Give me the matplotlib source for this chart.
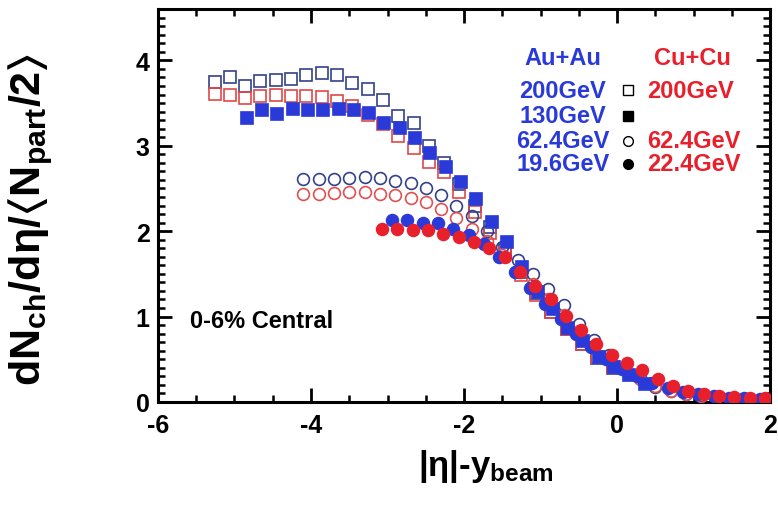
import numpy as np
import matplotlib
matplotlib.use("Agg")
import matplotlib.pyplot as plt
from matplotlib.ticker import MultipleLocator

plt.rcParams['font.family'] = ['Liberation Sans', 'DejaVu Sans']
plt.rcParams['font.weight'] = 'bold'
plt.rcParams['axes.unicode_minus'] = False
plt.rcParams['mathtext.fontset'] = 'custom'
plt.rcParams['mathtext.rm'] = 'Liberation Sans:bold'
plt.rcParams['mathtext.it'] = 'Liberation Sans:bold'
plt.rcParams['mathtext.bf'] = 'Liberation Sans:bold'
plt.rcParams['mathtext.sf'] = 'Liberation Sans:bold'
plt.rcParams['mathtext.fallback'] = 'stixsans'

# ---- data: x = |eta| - y_beam (0.2 steps in |eta|) ----
auau200_x = [-5.26, -5.06, -4.86, -4.66, -4.46, -4.26, -4.06, -3.86, -3.66, -3.46,
             -3.26, -3.06, -2.86, -2.66, -2.46, -2.26, -2.06, -1.86, -1.66, -1.46,
             -1.26, -1.06, -0.86, -0.66, -0.46, -0.26, -0.06]
auau200_y = [3.75, 3.80, 3.70, 3.76, 3.77, 3.78, 3.83, 3.85, 3.83, 3.74,
             3.67, 3.54, 3.35, 3.27, 3.00, 2.80, 2.55, 2.30, 2.05, 1.78,
             1.52, 1.28, 1.05, 0.85, 0.68, 0.52, 0.40]

cucu200_x = auau200_x
cucu200_y = [3.61, 3.59, 3.56, 3.58, 3.60, 3.58, 3.58, 3.57, 3.53, 3.47,
             3.36, 3.26, 3.12, 2.97, 2.81, 2.69, 2.46, 2.22, 1.98, 1.74,
             1.49, 1.25, 1.05, 0.85, 0.68, 0.53, 0.41]

auau130_x = [-4.84, -4.64, -4.44, -4.24, -4.04, -3.84, -3.64, -3.44, -3.24, -3.04,
             -2.84, -2.64, -2.44, -2.24, -2.04, -1.84, -1.64, -1.44, -1.24, -1.04,
             -0.84, -0.64, -0.44, -0.24, -0.04, 0.16, 0.36]
auau130_y = [3.33, 3.42, 3.37, 3.43, 3.42, 3.42, 3.43, 3.42, 3.38, 3.27,
             3.21, 3.09, 2.91, 2.75, 2.58, 2.38, 2.11, 1.87, 1.58, 1.29,
             1.09, 0.87, 0.71, 0.53, 0.41, 0.31, 0.21]

auau62_x = [-4.10, -3.90, -3.70, -3.50, -3.30, -3.10, -2.90, -2.70, -2.50, -2.30,
            -2.10, -1.90, -1.70, -1.50, -1.30, -1.10, -0.90, -0.70, -0.50, -0.30,
            -0.10, 0.10, 0.30, 0.50, 0.70, 0.90, 1.10]
auau62_y = [2.61, 2.61, 2.61, 2.62, 2.63, 2.62, 2.59, 2.56, 2.50, 2.42,
            2.30, 2.18, 2.00, 1.82, 1.66, 1.50, 1.32, 1.13, 0.91, 0.72,
            0.55, 0.41, 0.29, 0.18, 0.13, 0.09, 0.07]

cucu62_x = auau62_x
cucu62_y = [2.44, 2.44, 2.45, 2.46, 2.46, 2.44, 2.42, 2.39, 2.34, 2.26,
            2.15, 2.03, 1.88, 1.72, 1.55, 1.38, 1.20, 1.02, 0.83, 0.66,
            0.50, 0.37, 0.27, 0.19, 0.13, 0.09, 0.07]

auau19_x = [-2.94, -2.74, -2.54, -2.34, -2.14, -1.94, -1.74, -1.54, -1.34, -1.14,
            -0.94, -0.74, -0.54, -0.34, -0.14, 0.06, 0.26, 0.46, 0.66, 0.86,
            1.06, 1.26, 1.46, 1.66, 1.86]
auau19_y = [2.13, 2.13, 2.09, 2.10, 2.03, 1.96, 1.85, 1.70, 1.52, 1.33,
            1.15, 0.97, 0.80, 0.64, 0.50, 0.39, 0.30, 0.22, 0.16, 0.12,
            0.09, 0.07, 0.05, 0.04, 0.035]

cucu22_x = [-3.07, -2.87, -2.67, -2.47, -2.27, -2.07, -1.87, -1.67, -1.47, -1.27,
            -1.07, -0.87, -0.67, -0.47, -0.27, -0.07, 0.13, 0.33, 0.53, 0.73,
            0.93, 1.13, 1.33, 1.53, 1.73, 1.93]
cucu22_y = [2.02, 2.03, 2.01, 2.01, 1.97, 1.93, 1.87, 1.80, 1.70, 1.52,
            1.36, 1.21, 1.01, 0.84, 0.68, 0.55, 0.45, 0.37, 0.27, 0.19,
            0.13, 0.09, 0.07, 0.055, 0.05, 0.04]

legend_au = ["200GeV", "130GeV", "62.4GeV", "19.6GeV"]
legend_cu = ["200GeV", "", "62.4GeV", "22.4GeV"]

BLUE = '#2a3ad8'
RED = '#e8202c'

fig = plt.figure(figsize=(7.78, 5.10), dpi=100)
ax = fig.add_axes([0.203, 0.210, 0.787, 0.770])

ms = 8.5
mew = 1.2
ax.plot(auau200_x, auau200_y, 's', ms=ms, mfc='none', mec='#34418a', mew=mew, zorder=3)
ax.plot(cucu200_x, cucu200_y, 's', ms=ms, mfc='none', mec='#e04848', mew=mew, zorder=3)
ax.plot(auau130_x, auau130_y, 's', ms=ms, mfc=BLUE, mec=BLUE, mew=mew, zorder=4)
ax.plot(auau62_x, auau62_y, 'o', ms=ms, mfc='none', mec='#34418a', mew=mew, zorder=3)
ax.plot(cucu62_x, cucu62_y, 'o', ms=ms, mfc='none', mec='#e05050', mew=mew, zorder=3)
ax.plot(auau19_x, auau19_y, 'o', ms=ms, mfc=BLUE, mec=BLUE, mew=mew, zorder=5)
ax.plot(cucu22_x, cucu22_y, 'o', ms=ms, mfc=RED, mec=RED, mew=mew, zorder=6)

ax.set_xlim(-6, 2)
ax.set_ylim(0, 4.6)
ax.xaxis.set_major_locator(MultipleLocator(2))
ax.xaxis.set_minor_locator(MultipleLocator(0.5))
ax.yaxis.set_major_locator(MultipleLocator(1))
ax.yaxis.set_minor_locator(MultipleLocator(0.1))
ax.tick_params(which='both', direction='in', top=True, right=True, width=2)
ax.tick_params(which='major', length=10, labelsize=18)
ax.tick_params(axis='x', which='major', pad=8)
ax.tick_params(axis='y', which='major', pad=6)
ax.tick_params(which='minor', length=5, width=1.8)
for s in ax.spines.values():
    s.set_linewidth(2.2)
for lab in ax.get_xticklabels() + ax.get_yticklabels():
    lab.set_fontweight('bold')

ax.set_xlabel(r'$\mathrm{|\eta|\text{-}y_{beam}}$', fontsize=25)
ax.xaxis.set_label_coords(0.535, -0.115)
ax.set_ylabel(r'$\mathrm{dN_{ch}/d\eta/\langle N_{part}/2\rangle}$', fontsize=31)
ax.yaxis.set_label_coords(-0.168, 0.466)

# legend block
tr = ax.transData
FS = 17
ax.text(-0.71, 4.04, "Au+Au", color=BLUE, fontsize=FS, fontweight='bold', ha='center', va='center')
ax.text(0.99, 4.04, "Cu+Cu", color=RED, fontsize=FS, fontweight='bold', ha='center', va='center')
ys = [3.65, 3.35, 3.06, 2.79]
mk = [('s', 'none'), ('s', 'k'), ('o', 'none'), ('o', 'k')]
for i, yy in enumerate(ys):
    ax.text(-0.71, yy, legend_au[i], color=BLUE, fontsize=FS, fontweight='bold', ha='center', va='center')
    if legend_cu[i]:
        ax.text(0.39, yy, legend_cu[i], color=RED, fontsize=FS, fontweight='bold', ha='left', va='center')
    ax.plot([0.14], [yy], mk[i][0], ms=7, mfc=mk[i][1], mec='k', mew=1.0, transform=tr)

ax.text(-5.58, 0.95, "0-6% Central", color='k', fontsize=17, fontweight='bold', ha='left', va='center')

fig.savefig('out.png', dpi=100)
